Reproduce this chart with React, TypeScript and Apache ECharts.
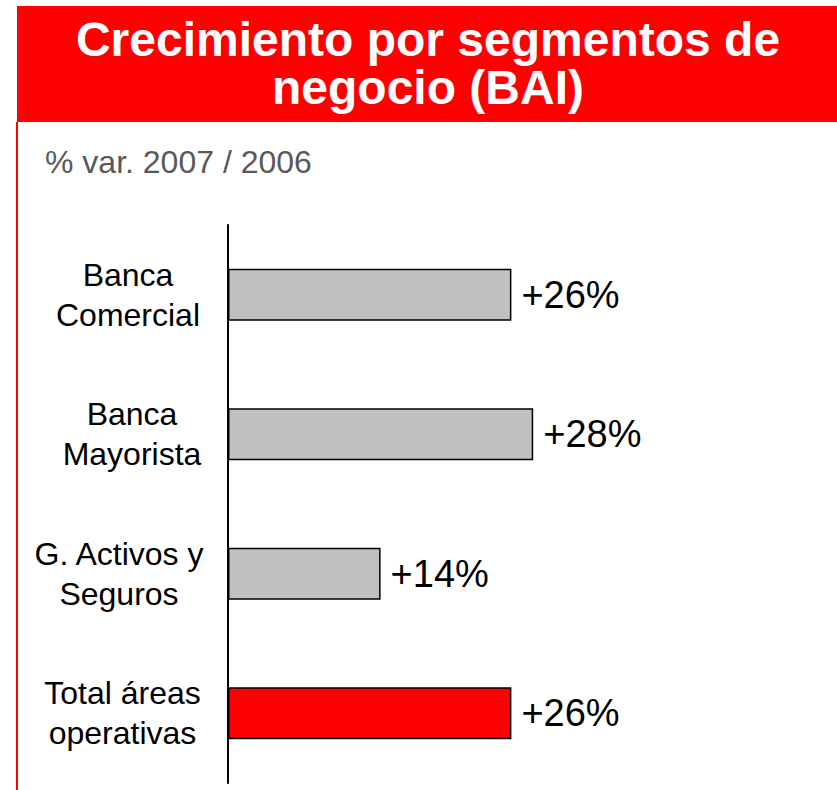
import React, { useEffect, useRef } from "react";
import * as echarts from "echarts";

const categories = ["Banca\nComercial", "Banca\nMayorista", "G. Activos y\nSeguros", "Total áreas\noperativas"];
const values = [26, 28, 14, 26];
const barColors = ["#C0C0C0", "#C0C0C0", "#C0C0C0", "#FF0000"];
const titleLines = ["Crecimiento por segmentos de", "negocio (BAI)"];
const subtitleText = "% var. 2007 / 2006";

const FONT = "Liberation Sans, Arial, sans-serif";
const labelPads = [
  [0, 0, 0, 0],
  [0, 0, 0, 8],
  [0, 18, 0, 0],
  [0, 11, 0, 0],
];

export default function App() {
  const ref = useRef<HTMLDivElement>(null);
  useEffect(() => {
    const chart = echarts.init(ref.current!, null, { renderer: "svg" });
    const rich: any = {};
    labelPads.forEach((p, i) => {
      rich["c" + i] = {
        fontFamily: FONT,
        fontSize: 32,
        lineHeight: 40,
        color: "#000000",
        padding: p,
      };
    });
    chart.setOption({
      animation: false,
      backgroundColor: "#ffffff",
      graphic: [
        { type: "rect", shape: { x: 17, y: 6, width: 820, height: 116 }, style: { fill: "#FF0000" } },
        { type: "rect", shape: { x: 16, y: 122, width: 2, height: 668 }, style: { fill: "#FF0000" } },
        ...titleLines.map((t, i) => ({
          type: "text",
          x: 428,
          y: 39 + i * 48,
          style: {
            text: t,
            fill: "#ffffff",
            font: `bold 48px ${FONT}`,
            lineHeight: 47,
            textAlign: "center",
            textVerticalAlign: "middle",
          },
        })),
        {
          type: "text",
          x: 45,
          y: 162,
          style: {
            text: subtitleText,
            fill: "#595959",
            font: `32px ${FONT}`,
            textAlign: "left",
            textVerticalAlign: "middle",
          },
        },
      ],
      grid: { left: 228, top: 225, width: 545, height: 558, containLabel: false },
      xAxis: {
        type: "value",
        min: 0,
        max: 50,
        show: false,
      },
      yAxis: {
        type: "category",
        data: categories,
        inverse: true,
        axisLine: { show: true, lineStyle: { color: "#000000", width: 2 } },
        axisTick: { show: false },
        axisLabel: {
          margin: 100,
          align: "center",
          color: "#000000",
          fontFamily: FONT,
          fontSize: 32,
          lineHeight: 40,
          formatter: (v: string, i: number) => `{c${i}|${v}}`,
          rich,
        },
        splitLine: { show: false },
      },
      series: [
        {
          type: "bar",
          barWidth: 52,
          data: values.map((v, i) => ({
            value: v,
            itemStyle: { color: barColors[i], borderColor: "#000000", borderWidth: 1.5 },
          })),
          label: {
            show: true,
            position: "right",
            distance: 10,
            formatter: (p: any) => "+" + p.value + "%",
            color: "#000000",
            fontFamily: FONT,
            fontSize: 38,
          },
        },
      ],
    });
    return () => chart.dispose();
  }, []);
  return <div ref={ref} style={{ position: "absolute", left: 0, top: 0, width: 837, height: 790 }} />;
}
